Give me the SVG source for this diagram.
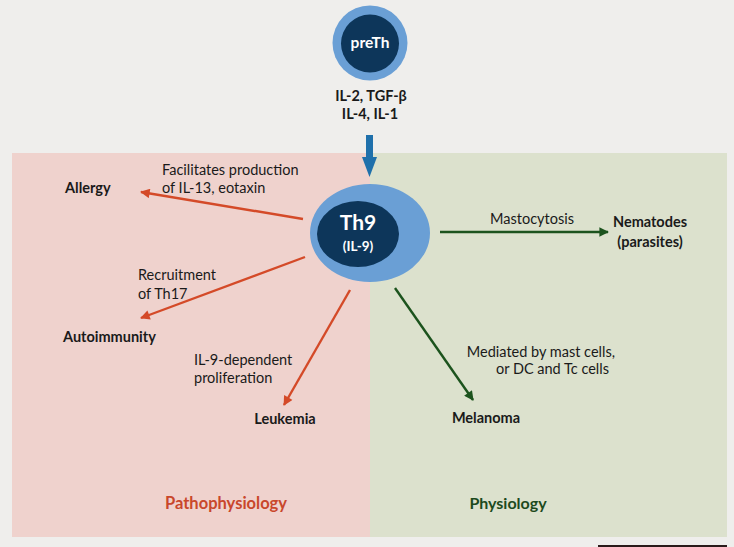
<svg xmlns="http://www.w3.org/2000/svg" width="734" height="547" viewBox="0 0 734 547">
<defs>
<style>
text{font-family:Lato,"Liberation Sans",sans-serif;fill:#1a1a1a}
.lbl{font-size:14.5px}
.b{font-size:14.5px;font-weight:bold}
.red{stroke:#d44a28;stroke-width:2.4;fill:none}
.grn{stroke:#1c531d;stroke-width:2.4;fill:none}
.outer{fill:#6a9fd5}
.inner{fill:#0d365a}
.w{fill:#ffffff;font-weight:bold}
</style>
<marker id="ar" viewBox="0 0 10 10" refX="9" refY="5" markerWidth="4.4" markerHeight="4" orient="auto" markerUnits="strokeWidth">
<path d="M0,0 L10,5 L0,10 z" fill="#d44a28"/>
</marker>
<marker id="ag" viewBox="0 0 10 10" refX="9" refY="5" markerWidth="4.4" markerHeight="4" orient="auto" markerUnits="strokeWidth">
<path d="M0,0 L10,5 L0,10 z" fill="#1c531d"/>
</marker>
</defs>
<rect width="734" height="547" fill="#efeeec"/>
<g id="panel-patho">
<rect x="12" y="153" width="358" height="384" fill="#efd2cd"/>
<text x="226" y="509" text-anchor="middle" style="font-size:16.5px;font-weight:bold;fill:#c9472b">Pathophysiology</text>
</g>
<g id="panel-physio">
<rect x="370" y="153" width="357" height="384" fill="#dce1cd"/>
<text x="508" y="509" text-anchor="middle" style="font-size:16px;font-weight:bold;fill:#1d4a1d">Physiology</text>
</g>
<rect x="598" y="545" width="129" height="2" fill="#2a1a1a"/>
<g id="connectors">
<line x1="369.5" y1="135" x2="369.5" y2="158" stroke="#1f70ab" stroke-width="7"/>
<path d="M362,157 L377,157 L369.5,177 z" fill="#1f70ab"/>
<line class="red" x1="303" y1="219" x2="141" y2="192" marker-end="url(#ar)"/>
<line class="red" x1="305" y1="257" x2="141" y2="318" marker-end="url(#ar)"/>
<line class="red" x1="350" y1="290" x2="284" y2="405" marker-end="url(#ar)"/>
<line class="grn" x1="440" y1="232" x2="608" y2="232" marker-end="url(#ag)"/>
<line class="grn" x1="395" y1="288" x2="473" y2="400" marker-end="url(#ag)"/>
<text class="lbl" x="162" y="175">Facilitates production</text>
<text class="lbl" x="162" y="193">of IL-13, eotaxin</text>
<text class="lbl" x="138" y="280">Recruitment</text>
<text class="lbl" x="138" y="299">of Th17</text>
<text class="lbl" x="194" y="365">IL-9-dependent</text>
<text class="lbl" x="194" y="383">proliferation</text>
<text class="lbl" x="532" y="224" text-anchor="middle">Mastocytosis</text>
<text class="lbl" x="615" y="357" text-anchor="end">Mediated by mast cells,</text>
<text class="lbl" x="609" y="374" text-anchor="end">or DC and Tc cells</text>
</g>
<g id="preTh">
<circle class="outer" cx="370" cy="43" r="37.5"/>
<circle class="inner" cx="370" cy="43.5" r="29"/>
<text class="w" x="370" y="48" text-anchor="middle" style="font-size:15.5px">preTh</text>
<text class="b" x="371" y="101" text-anchor="middle">IL-2, TGF-β</text>
<text class="b" x="370" y="119" text-anchor="middle">IL-4, IL-1</text>
</g>
<g id="Th9">
<ellipse class="outer" cx="370" cy="233" rx="60" ry="49"/>
<ellipse class="inner" cx="358" cy="234" rx="41" ry="33"/>
<text class="w" x="358" y="230" text-anchor="middle" style="font-size:21px">Th9</text>
<text class="w" x="358" y="251" text-anchor="middle" style="font-size:13.5px">(IL-9)</text>
</g>
<g id="allergy"><text class="b" x="65" y="193">Allergy</text></g>
<g id="autoimmunity"><text class="b" x="63" y="342">Autoimmunity</text></g>
<g id="leukemia"><text class="b" x="285" y="424" text-anchor="middle">Leukemia</text></g>
<g id="melanoma"><text class="b" x="486" y="423" text-anchor="middle">Melanoma</text></g>
<g id="nematodes">
<text class="b" x="650" y="227" text-anchor="middle">Nematodes</text>
<text class="b" x="650" y="247" text-anchor="middle">(parasites)</text>
</g>
</svg>
